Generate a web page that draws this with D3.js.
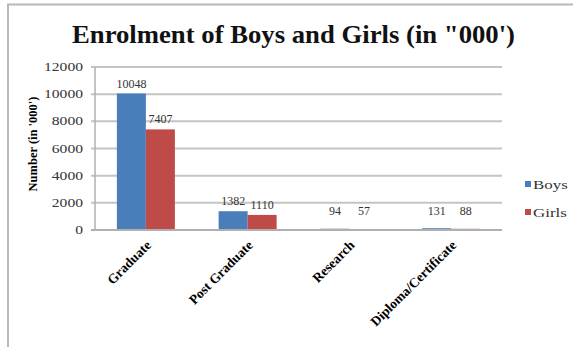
<!DOCTYPE html>
<meta charset="utf-8">
<style>
body {
  margin: 0;
  padding: 0;
  background: #fff;
}
svg, svg text {
  font-family: "Times New Roman", "Liberation Serif", "DejaVu Serif", serif;
}
.grid line {
  stroke: #c4c4c4;
  stroke-width: 2px;
}
</style>
<body>
<script src="https://cdnjs.cloudflare.com/ajax/libs/d3/7.8.5/d3.min.js"></script>
<script>

var categories = ["Graduate", "Post Graduate", "Research", "Diploma/Certificate"];
var seriesNames = ["Boys", "Girls"];
var boys = [10048, 1382, 94, 131];
var girls = [7407, 1110, 57, 88];
var yTicks = [0, 2000, 4000, 6000, 8000, 10000, 12000];

var colors = {Boys: "#4a7ebb", Girls: "#be4b48"};
var serif = "'Times New Roman', 'Liberation Serif', serif";

var width = 573,
    height = 347;

var margin = {left: 95, right: 71, top: 67, bottom: 117};

var svg = d3.select("body").append("svg")
    .attr("width", width)
    .attr("height", height)
    .attr("font-family", serif);

// outer frame (only top and left visible in the picture)
svg.append("line")
    .attr("x1", 7).attr("y1", 4.5).attr("x2", width).attr("y2", 4.5)
    .style("stroke", "#b8b8b8").style("stroke-width", 2);
svg.append("line")
    .attr("x1", 8).attr("y1", 4).attr("x2", 8).attr("y2", height)
    .style("stroke", "#b8b8b8").style("stroke-width", 2);

svg.append("text")
    .attr("x", 72)
    .attr("y", 43)
    .attr("textLength", 443)
    .attr("lengthAdjust", "spacingAndGlyphs")
    .style("font-family", serif)
    .style("font-size", "26px")
    .style("font-weight", "bold")
    .style("fill", "#111")
    .text("Enrolment of Boys and Girls (in \"000')");

var x = d3.scaleBand()
    .domain(categories)
    .range([margin.left, width - margin.right]);

var x1 = d3.scaleBand()
    .domain(seriesNames)
    .range([0, 58]);

var y = d3.scaleLinear()
    .domain([0, 12000])
    .range([height - margin.bottom, margin.top]);

// gridlines
svg.append("g")
    .attr("class", "grid")
    .selectAll("line")
    .data(yTicks)
  .enter().append("line")
    .attr("x1", margin.left - 4)
    .attr("x2", width - margin.right)
    .attr("y1", function(d) { return y(d); })
    .attr("y2", function(d) { return y(d); });

// y axis line
svg.append("line")
    .attr("x1", margin.left).attr("x2", margin.left)
    .attr("y1", y(12000)).attr("y2", y(0))
    .style("stroke", "#b0b0b0").style("stroke-width", 1.5);

svg.append("g")
    .selectAll("text")
    .data(yTicks)
  .enter().append("text")
    .attr("transform", function(d) { return "translate(" + (margin.left - 12) + "," + (y(d) + 4) + ") scale(1.3,1)"; })
    .attr("text-anchor", "end")
    .style("font-family", serif)
    .style("font-size", "12px")
    .style("fill", "#333")
    .text(function(d) { return d; });

svg.append("text")
    .attr("transform", "translate(37," + 144 + ") rotate(-90)")
    .attr("text-anchor", "middle")
    .style("font-family", serif)
    .style("font-size", "12.5px")
    .style("font-weight", "bold")
    .text("Number  (in '000')");

var rows = categories.map(function(c, i) {
  return {cat: c, vals: [{s: "Boys", v: boys[i]}, {s: "Girls", v: girls[i]}]};
});

var groups = svg.selectAll(".group")
    .data(rows)
  .enter().append("g")
    .attr("transform", function(d) { return "translate(" + (x(d.cat) + x.bandwidth() / 2 - 29) + ",0)"; });

groups.selectAll("rect")
    .data(function(d) { return d.vals; })
  .enter().append("rect")
    .attr("x", function(d) { return x1(d.s); })
    .attr("width", x1.bandwidth())
    .attr("y", function(d) { return y(d.v); })
    .attr("height", function(d) { return y(0) - y(d.v); })
    .style("fill", function(d) { return colors[d.s]; });

groups.selectAll(".lbl")
    .data(function(d) { return d.vals; })
  .enter().append("text")
    .attr("class", "lbl")
    .attr("x", function(d) { return x1(d.s) + x1.bandwidth() / 2; })
    .attr("y", function(d) { return Math.min(y(d.v), y(0) - 9) - 6; })
    .attr("text-anchor", "middle")
    .style("font-family", serif)
    .style("font-size", "12px")
    .style("fill", "#333")
    .text(function(d) { return d.v; });

// x axis line
svg.append("line")
    .attr("x1", margin.left - 4).attr("x2", width - margin.right)
    .attr("y1", y(0)).attr("y2", y(0))
    .style("stroke", "#b0b0b0").style("stroke-width", 2);

svg.append("g")
    .selectAll("text")
    .data(categories)
  .enter().append("text")
    .attr("transform", function(d) { return "translate(" + (x(d) + x.bandwidth() / 2 + 6) + "," + (y(0) + 16) + ") rotate(-45)"; })
    .attr("text-anchor", "end")
    .style("font-family", serif)
    .style("font-size", "13.5px")
    .style("font-weight", "bold")
    .text(function(d) { return d; });

// legend
var legend = svg.selectAll(".legend")
    .data(seriesNames)
  .enter().append("g")
    .attr("transform", function(d, i) { return "translate(525," + (186 + i * 28) + ")"; });

legend.append("rect")
    .attr("x", 0).attr("y", -5)
    .attr("width", 6).attr("height", 6)
    .style("fill", function(d) { return colors[d]; });

legend.append("text")
    .attr("transform", "translate(8,3) scale(1.3,1)")
    .style("font-family", serif)
    .style("font-size", "13px")
    .style("fill", "#333")
    .text(function(d) { return d; });

</script>
